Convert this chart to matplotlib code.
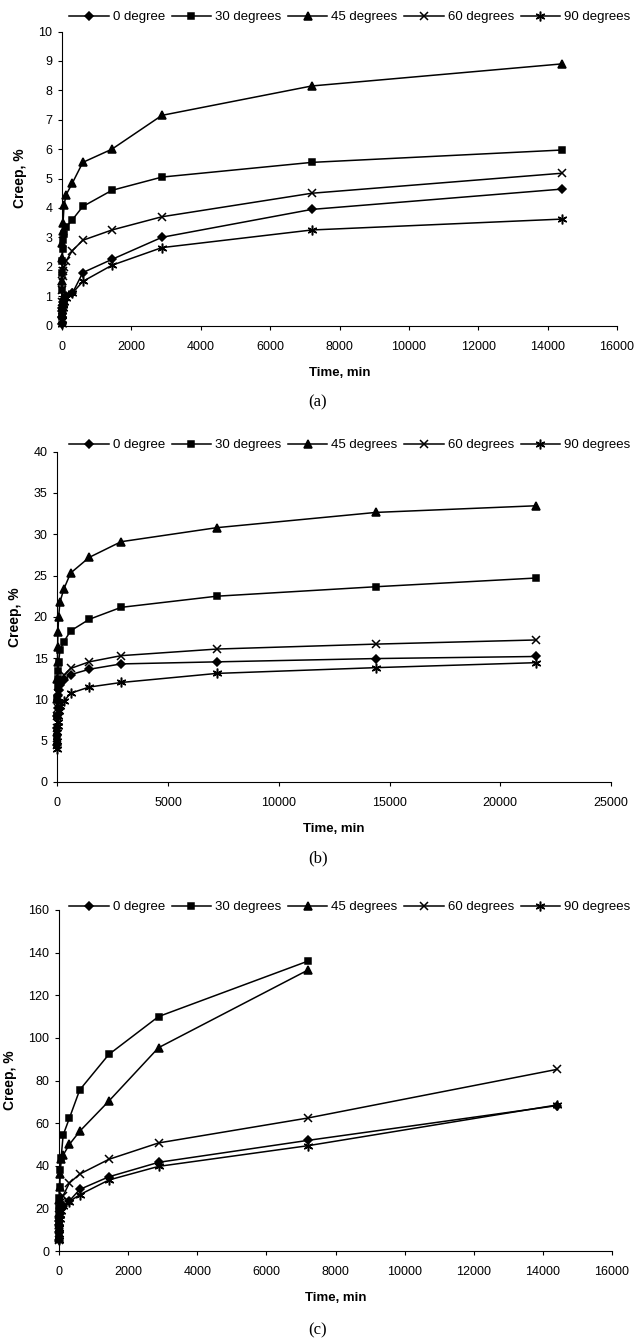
import matplotlib
matplotlib.use("Agg")
import matplotlib.pyplot as plt

plt.rcParams['font.family'] = ['Liberation Sans', 'DejaVu Sans']

labels = ['0 degree', '30 degrees', '45 degrees', '60 degrees', '90 degrees']
markers = ['D', 's', '^', 'x', (6, 2, 0)]
msizes = [4, 5, 5.5, 6, 7]

# panel (a)
t_a = [0, 1, 5, 10, 20, 30, 60, 120, 300, 600, 1440, 2880, 7200, 14400]
a_0 = [0.05, 0.3, 0.5, 0.6, 0.7, 0.8, 0.9, 1.0, 1.1, 1.8, 2.25, 3.0, 3.95, 4.64]
a_30 = [0.3, 1.2, 1.8, 2.2, 2.6, 2.9, 3.1, 3.35, 3.6, 4.05, 4.6, 5.05, 5.55, 5.97]
a_45 = [0.4, 1.5, 2.3, 2.8, 3.2, 3.5, 4.1, 4.45, 4.85, 5.55, 6.0, 7.15, 8.15, 8.9]
a_60 = [0.2, 0.8, 1.2, 1.5, 1.7, 1.85, 2.0, 2.2, 2.55, 2.9, 3.25, 3.7, 4.5, 5.18]
a_90 = [0.05, 0.2, 0.35, 0.5, 0.6, 0.7, 0.8, 0.95, 1.1, 1.5, 2.05, 2.65, 3.25, 3.62]

# panel (b)
t_b = [0, 1, 5, 10, 15, 30, 60, 120, 300, 600, 1440, 2880, 7200, 14400, 21600]
b_0 = [4.5, 6.5, 8.0, 9.0, 9.8, 10.5, 11.2, 11.8, 12.4, 13.0, 13.65, 14.3, 14.55, 14.95, 15.2]
b_30 = [5.5, 8.0, 10.0, 11.5, 12.5, 13.5, 14.5, 16.0, 17.0, 18.3, 19.7, 21.15, 22.5, 23.65, 24.7]
b_45 = [6.0, 10.0, 12.5, 14.5, 16.4, 18.2, 20.0, 21.8, 23.4, 25.3, 27.2, 29.1, 30.8, 32.65, 33.45]
b_60 = [4.5, 6.5, 8.0, 9.0, 10.0, 10.8, 11.5, 12.3, 12.9, 13.75, 14.55, 15.3, 16.1, 16.7, 17.2]
b_90 = [4.0, 5.0, 6.0, 6.8, 7.3, 8.0, 8.6, 9.2, 9.8, 10.75, 11.5, 12.05, 13.15, 13.85, 14.45]

# panel (c)
t_c = [0, 1, 5, 10, 15, 30, 60, 120, 300, 600, 1440, 2880, 7200, 14400]
c_0 = [5, 9, 12, 14, 16, 18, 19.5, 21, 23.5, 28.9, 34.8, 41.6, 51.9, 68.2]
c_30 = [7, 14, 20, 25, 30, 38, 43.5, 54.4, 62.3, 75.6, 92.2, 110, 136]
c_45 = [6, 12, 18, 24, 30, 36, 43, 45, 50, 56.2, 70.3, 95.4, 131.8]
c_60 = [5, 10, 14, 17, 19, 21, 23, 26, 31.9, 36.1, 43, 50.7, 62.4, 85.2]
c_90 = [5, 8, 11, 13, 15, 17, 19, 21, 23.2, 26.4, 33.3, 39.7, 49.4, 68.5]

panels = [
    ([t_a, t_a, t_a, t_a, t_a], [a_0, a_30, a_45, a_60, a_90], (0, 16000), 2000, (0, 10), 1, '(a)'),
    ([t_b, t_b, t_b, t_b, t_b], [b_0, b_30, b_45, b_60, b_90], (0, 25000), 5000, (0, 40), 5, '(b)'),
    ([t_c, t_c, t_c, t_c, t_c], [c_0, c_30, c_45, c_60, c_90], (0, 16000), 2000, (0, 160), 20, '(c)'),
]
# axes boxes in pixels: left, top, right, bottom
boxes = [(62, 31.6, 617, 325.5), (57.3, 451.7, 611, 782), (59, 910, 612, 1251)]
cap_y = [402, 858, 1330]
leg_y = [17, 445, 907]

W, H = 636, 1344
fig = plt.figure(figsize=(W / 100, H / 100), dpi=100)

for (ts, ys, xl, xs, yl, ys_step, cap), (l, t, r, b), cy, ly in zip(panels, boxes, cap_y, leg_y):
    ax = fig.add_axes([l / W, 1 - b / H, (r - l) / W, (b - t) / H])
    handles = []
    for tt, yy, lab, m, ms in zip(ts, ys, labels, markers, msizes):
        h, = ax.plot(tt[:len(yy)], yy, color='black', lw=1.1, marker=m, ms=ms,
                     mew=1.1, label=lab, clip_on=False)
        handles.append(h)
    ax.set_xlim(*xl)
    ax.set_ylim(*yl)
    ax.set_xticks(range(xl[0], xl[1] + 1, xs))
    ax.set_yticks(range(yl[0], yl[1] + 1, ys_step))
    ax.spines['top'].set_visible(False)
    ax.spines['right'].set_visible(False)
    ax.tick_params(axis='x', labelsize=9, length=3, direction='out', pad=8)
    ax.tick_params(axis='y', labelsize=9, length=3, direction='out', pad=4)
    ax.set_xlabel('Time, min', fontsize=9.5, fontweight='bold', labelpad=10)
    ax.set_ylabel('Creep, %', fontsize=10, fontweight='bold', labelpad=8)
    fig.legend(handles=handles, loc='center', bbox_to_anchor=(0.55, 1 - ly / H),
               ncol=5, frameon=False, fontsize=9.5, handlelength=3.0,
               columnspacing=0.5, handletextpad=0.3, borderaxespad=0.0,
               borderpad=0.0)
    fig.text(0.5, 1 - cy / H, cap, ha='center', va='center', fontsize=12,
             family=['Liberation Serif', 'DejaVu Serif'])

fig.savefig('out.png', dpi=100)
